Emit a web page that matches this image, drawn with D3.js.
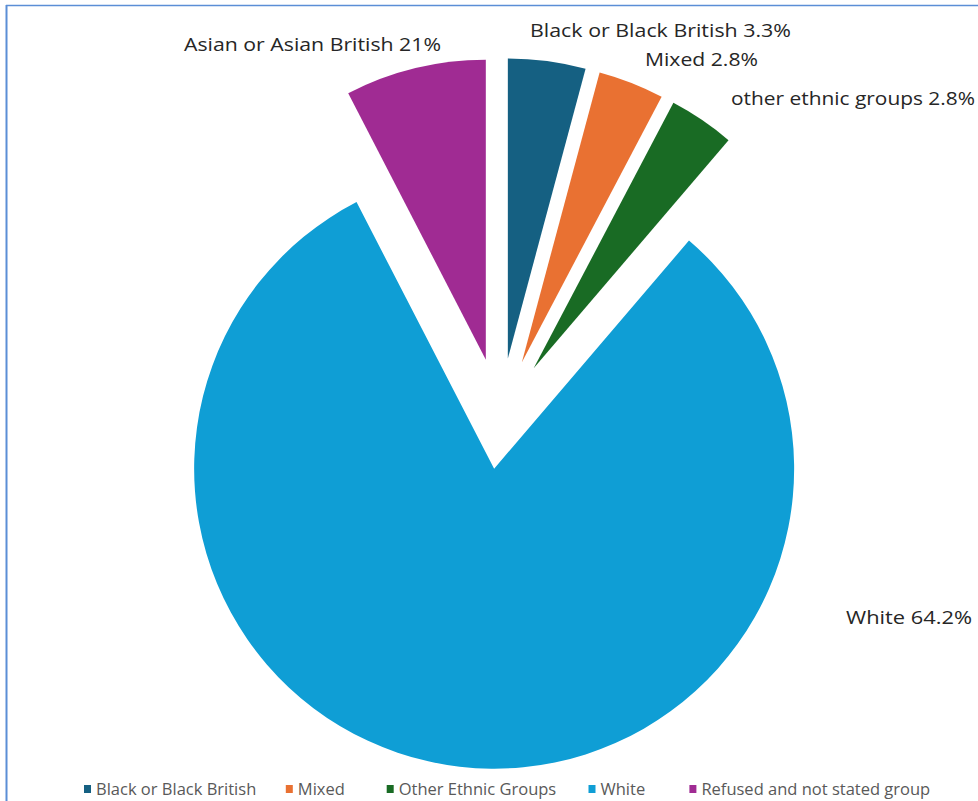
<!DOCTYPE html>
<html>
<head>
<meta charset="utf-8">
<script src="https://cdn.jsdelivr.net/npm/d3@7"></script>
<style>
  html, body { margin: 0; padding: 0; background: #fff; }
  svg { display: block; }
</style>
</head>
<body>
<svg id="chart" width="978" height="801"></svg>
<script>
// ---------- DATA ----------
const categories = ["Black or Black British", "Mixed", "Other Ethnic Groups", "White", "Refused and not stated group"];
const sliceValues = [3.3, 2.8, 2.8, 64.2, 6.0];
const labelNames = ["Black or Black British", "Mixed", "other ethnic groups", "White", "Asian or Asian British"];
const labelPercents = ["3.3%", "2.8%", "2.8%", "64.2%", "21%"];

// ---------- STYLE / LAYOUT ----------
const colors = ["#156082", "#E97132", "#196B24", "#0F9ED5", "#A02B93"];
const W = 978, H = 801;
const cx = 500, cy = 418, R = 300;
const explode = [60, 60, 60, 51, 60];
// label anchor (left x, baseline y) and target text width
const labelLayout = [
  { x: 530, y: 37, w: 261 },
  { x: 645, y: 66, w: 113 },
  { x: 731, y: 105, w: 244 },
  { x: 846, y: 624, w: 126 },
  { x: 184, y: 51, w: 257 }
];
const legendY = 789;
const legendStart = 84, legendCol = 100.9;
const legendSpans = [2, 1, 2, 1, 3];
const fontFamily = "'Open Sans', 'Noto Sans', sans-serif";

const svg = d3.select("#chart");

// frame border (left and top)
svg.append("line").attr("x1", 6.5).attr("y1", 5).attr("x2", 6.5).attr("y2", H)
  .attr("stroke", "#5B8ED6").attr("stroke-width", 2);
svg.append("line").attr("x1", 6).attr("y1", 5.5).attr("x2", W).attr("y2", 5.5)
  .attr("stroke", "#5B8ED6").attr("stroke-width", 1.5);

const pie = d3.pie().sort(null).value(d => d);
const arcs = pie(sliceValues);
const arc = d3.arc().innerRadius(0).outerRadius(R);

const g = svg.append("g").attr("transform", `translate(${cx},${cy})`);
g.selectAll("path.slice").data(arcs).enter().append("path")
  .attr("class", "slice")
  .attr("d", arc)
  .attr("fill", (d, i) => colors[i])
  .attr("transform", (d, i) => {
    const a = (d.startAngle + d.endAngle) / 2;
    return `translate(${explode[i] * Math.sin(a)},${-explode[i] * Math.cos(a)})`;
  });

// data labels
svg.selectAll("text.lbl").data(arcs).enter().append("text")
  .attr("class", "lbl")
  .attr("x", (d, i) => labelLayout[i].x)
  .attr("y", (d, i) => labelLayout[i].y)
  .attr("font-family", fontFamily)
  .attr("font-size", 18)
  .attr("fill", "#262626")
  .attr("textLength", (d, i) => labelLayout[i].w)
  .attr("lengthAdjust", "spacingAndGlyphs")
  .text((d, i) => labelNames[i] + " " + labelPercents[i]);

// legend
let col = 0;
const legend = svg.append("g");
categories.forEach((c, i) => {
  const x = legendStart + col * legendCol;
  col += legendSpans[i];
  legend.append("rect").attr("x", x).attr("y", legendY - 4).attr("width", 7).attr("height", 8)
    .attr("fill", colors[i]);
  legend.append("text").attr("x", x + 12).attr("y", legendY + 6)
    .attr("font-family", fontFamily).attr("font-size", 16.5).attr("fill", "#595959")
    .text(c);
});
</script>
</body>
</html>
